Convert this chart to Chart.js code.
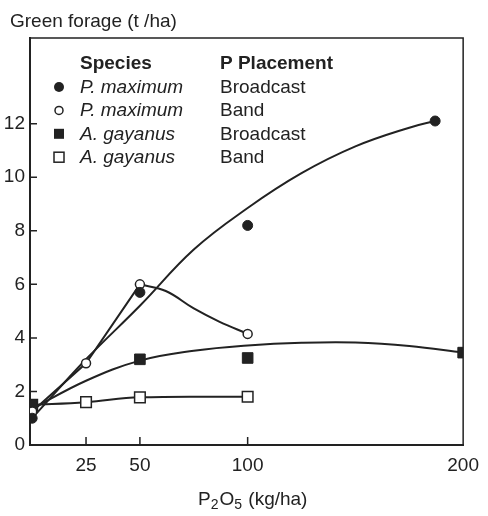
<!DOCTYPE html>
<html>
<head>
<meta charset="utf-8">
<script src="https://cdn.jsdelivr.net/npm/chart.js@4.4.1/dist/chart.umd.min.js"></script>
<style>
html, body { margin:0; padding:0; background:#fff; }
</style>
</head>
<body>
<canvas id="chart" width="488" height="516"></canvas>
<script>
const ink = '#222';
const font = "'Liberation Sans', Arial, sans-serif";

// measured points (P2O5 kg/ha -> t/ha)
const pmaxBroadX = [0, 50, 100, 187];
const pmaxBroadY = [1.0, 5.7, 8.2, 12.1];
const pmaxBandX = [0, 25, 50, 100];
const pmaxBandY = [1.25, 3.05, 6.0, 4.15];
const agayBroadX = [0, 50, 100, 200];
const agayBroadY = [1.5, 3.2, 3.25, 3.45];
const agayBandX = [0, 25, 50, 100];
const agayBandY = [1.5, 1.6, 1.78, 1.8];

// drawn response curves
const pmaxBroadFitX = [0, 25, 50, 75, 100, 125, 150, 175, 187];
const pmaxBroadFitY = [1.0, 3.2, 5.2, 7.3, 8.85, 10.15, 11.15, 11.85, 12.1];
const pmaxBandFitX = [50, 62, 75, 87, 100];
const pmaxBandFitY = [6.0, 5.75, 5.1, 4.6, 4.15];
const agayBroadFitX = [0, 25, 50, 75, 100, 125, 150, 175, 200];
const agayBroadFitY = [1.35, 2.4, 3.15, 3.52, 3.72, 3.82, 3.83, 3.7, 3.45];

const xTicks = [25, 50, 100, 200];
const yTicks = [0, 2, 4, 6, 8, 10, 12];

const legendSpecies = ['P. maximum', 'P. maximum', 'A. gayanus', 'A. gayanus'];
const legendPlacement = ['Broadcast', 'Band', 'Broadcast', 'Band'];
const legendMarks = ['dot', 'ring', 'box', 'openbox'];

function pts(xs, ys) {
  return xs.map((v, i) => ({x: v, y: ys[i]}));
}

function marks(xs, ys, style, filled) {
  return {
    data: pts(xs, ys),
    showLine: false,
    pointStyle: style,
    pointRadius: style == 'rect' ? 7.5 : (filled ? 5 : 4.5),
    pointBackgroundColor: filled ? ink : '#fff',
    pointBorderColor: ink,
    pointBorderWidth: filled ? 1 : 1.5,
    order: 1
  };
}

function curve(xs, ys, smooth) {
  return {
    data: pts(xs, ys),
    showLine: true,
    pointRadius: 0,
    borderColor: ink,
    borderWidth: 2,
    tension: smooth ? 0.4 : 0,
    order: 2
  };
}

const framePlugin = {
  id: 'frame',
  afterDraw(chart) {
    const {ctx, chartArea: a, scales: {x, y}} = chart;
    ctx.save();
    ctx.strokeStyle = ink;
    ctx.lineWidth = 1.5;
    ctx.beginPath();
    ctx.moveTo(a.left, a.top);
    ctx.lineTo(a.right, a.top);
    ctx.lineTo(a.right, a.bottom);
    // ticks point inward
    xTicks.forEach(v => {
      if (v >= 200) return;
      const px = x.getPixelForValue(v);
      ctx.moveTo(px, a.bottom);
      ctx.lineTo(px, a.bottom - 8);
    });
    yTicks.forEach(v => {
      if (v == 0) return;
      const py = y.getPixelForValue(v);
      ctx.moveTo(a.left, py);
      ctx.lineTo(a.left + 7, py);
    });
    ctx.stroke();

    ctx.fillStyle = ink;
    ctx.textBaseline = 'alphabetic';
    ctx.textAlign = 'left';
    ctx.font = '19px ' + font;
    ctx.fillText('Green forage (t /ha)', 10, 27);

    // x axis title with subscripts
    let tx = 198;
    const ty = 505;
    const part = (s, sub) => {
      ctx.font = (sub ? '14px ' : '19px ') + font;
      ctx.fillText(s, tx, sub ? ty + 4 : ty);
      tx += ctx.measureText(s).width + (sub ? 1 : 0);
    };
    part('P'); part('2', true); part('O'); part('5', true); part(' (kg/ha)');

    // legend table
    ctx.font = 'bold 19px ' + font;
    ctx.fillText('Species', 80, 69);
    ctx.fillText('P Placement', 220, 69);
    legendSpecies.forEach((s, i) => {
      const by = 93 + i * 23.4;
      ctx.font = 'italic 19px ' + font;
      ctx.fillText(s, 80, by);
      ctx.font = '19px ' + font;
      ctx.fillText(legendPlacement[i], 220, by);
      const mx = 59, my = by - 6;
      ctx.beginPath();
      ctx.lineWidth = 1.5;
      const m = legendMarks[i];
      if (m == 'dot') { ctx.arc(mx, my, 5, 0, Math.PI * 2); ctx.fill(); }
      if (m == 'ring') { ctx.arc(mx, my, 4, 0, Math.PI * 2); ctx.stroke(); }
      if (m == 'box') { ctx.fillRect(mx - 5, my - 5, 10, 10); }
      if (m == 'openbox') { ctx.strokeRect(mx - 5, my - 5, 10, 10); }
    });
    ctx.restore();
  }
};

new Chart(document.getElementById('chart'), {
  type: 'scatter',
  data: {
    datasets: [
      marks(pmaxBroadX, pmaxBroadY, 'circle', true),
      marks(pmaxBandX, pmaxBandY, 'circle', false),
      marks(agayBroadX, agayBroadY, 'rect', true),
      marks(agayBandX, agayBandY, 'rect', false),
      curve(pmaxBroadFitX, pmaxBroadFitY, true),
      curve(pmaxBandX.slice(0, 3), pmaxBandY.slice(0, 3), false),
      curve(pmaxBandFitX, pmaxBandFitY, true),
      curve(agayBroadFitX, agayBroadFitY, true),
      curve(agayBandX, agayBandY, true)
    ]
  },
  options: {
    responsive: false,
    animation: false,
    layout: { padding: { top: 38, right: 16, left: 0, bottom: 0 } },
    plugins: { legend: { display: false }, tooltip: { enabled: false } },
    scales: {
      x: {
        type: 'linear', min: -1, max: 200,
        afterBuildTicks: s => { s.ticks = xTicks.map(v => ({value: v})); },
        afterFit: s => { s.height = 71; },
        grid: { display: false, drawTicks: false },
        border: { display: true, color: ink, width: 2 },
        ticks: { color: ink, padding: 9, maxRotation: 0, font: { family: font, size: 19 } }
      },
      y: {
        type: 'linear', min: 0, max: 15.2,
        afterBuildTicks: s => { s.ticks = yTicks.map(v => ({value: v})); },
        afterFit: s => { s.width = 30; },
        grid: { display: false, drawTicks: false },
        border: { display: true, color: ink, width: 2 },
        ticks: { color: ink, padding: 5, font: { family: font, size: 19 } }
      }
    }
  },
  plugins: [framePlugin]
});
</script>
</body>
</html>
